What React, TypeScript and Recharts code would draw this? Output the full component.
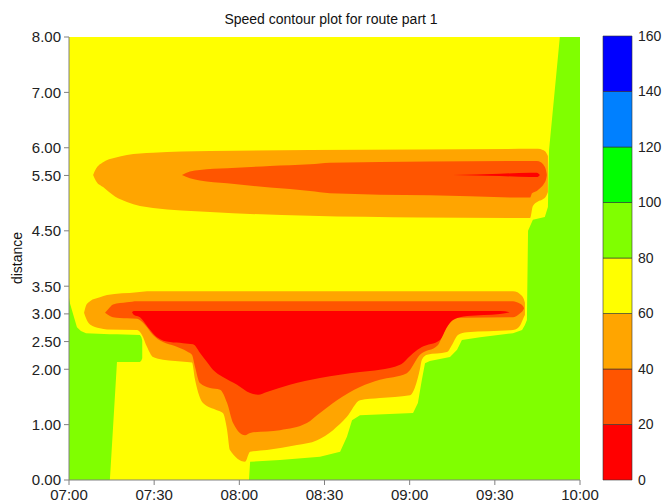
import { Area, Bar, BarChart, ComposedChart, XAxis, YAxis } from "recharts";

// x = minutes after 07:00, then [lower, upper] distance of the filled band
type Pt = [number, number, number];

const timeTicks = [0, 30, 60, 90, 120, 150, 180];
const distanceTicks = [0, 1, 2, 2.5, 3, 3.5, 4.5, 5.5, 6, 7, 8];
const speedLevels = [0, 20, 40, 60, 80, 100, 120, 140, 160];

// 60-80 covers the whole field, the other bands are drawn on top
const field6080: Pt[] = [
  [0, 0, 8],
  [180, 0, 8],
];

const green80Left: Pt[] = [
  [0, 0, 3.29], [0.4, 0, 3.18], [2.8, 0, 2.76], [4.2, 0, 2.69], [6.0, 0, 2.65],
  [14.4, 0, 2.63], [16.9, 2.13, 2.63], [25.0, 2.13, 2.62], [25.5, 2.16, 2.58],
  [25.8, 2.2, 2.52],
];

const green80Right: Pt[] = [
  [63.4, 0, 0], [63.8, 0, 0.33], [74.3, 0, 0.36], [88.4, 0, 0.42], [95.5, 0, 0.51],
  [97.9, 0, 0.78], [99.7, 0, 1.08], [102.5, 0, 1.17], [121.2, 0, 1.21],
  [122.9, 0, 1.39], [124.3, 0, 1.81], [125.4, 0, 2.11], [127.1, 0, 2.15],
  [134.2, 0, 2.22], [136.7, 0, 2.35], [138.4, 0, 2.53], [144.8, 0, 2.58],
  [156.4, 0, 2.65], [159.6, 0, 2.71], [160.6, 0, 2.8], [161.3, 0, 2.89],
  [161.7, 0, 4.5], [163.4, 0, 4.7], [167.6, 0, 4.75], [168.7, 0, 4.93],
  [169.1, 0, 5.96], [172.9, 0, 8], [180, 0, 8],
];

const orange40Upper: Pt[] = [
  [8.5, 5.51, 5.51], [9.5, 5.4, 5.62], [12.0, 5.29, 5.74], [16.2, 5.12, 5.82],
  [20.4, 5.02, 5.87], [29.6, 4.91, 5.91], [49.7, 4.84, 5.94], [84.9, 4.77, 5.96],
  [123.6, 4.74, 5.97], [162.4, 4.73, 5.98], [163.4, 4.95, 5.98], [165.2, 5.03, 5.98],
  [166.9, 5.07, 5.96], [168.0, 5.12, 5.92], [168.7, 5.2, 5.85],
];

const dark20Upper: Pt[] = [
  [39.8, 5.51, 5.51], [42.6, 5.45, 5.57], [46.1, 5.41, 5.6], [55.7, 5.36, 5.63],
  [70.8, 5.28, 5.67], [84.9, 5.22, 5.7], [91.9, 5.18, 5.73], [127.1, 5.14, 5.75],
  [162.4, 5.1, 5.76], [163.1, 5.18, 5.76], [164.8, 5.22, 5.76], [166.2, 5.28, 5.74],
  [167.3, 5.35, 5.68], [168.0, 5.42, 5.6], [168.3, 5.5, 5.52],
];

const red0Upper: Pt[] = [
  [135.2, 5.51, 5.51], [151.8, 5.49, 5.53], [162.4, 5.47, 5.55], [164.8, 5.47, 5.55],
  [165.9, 5.51, 5.51],
];

const orange40Lower: Pt[] = [
  [5.3, 3.02, 3.02], [6.0, 2.92, 3.15], [6.7, 2.85, 3.2], [7.4, 2.81, 3.23],
  [10.9, 2.74, 3.3], [13.4, 2.72, 3.34], [24.0, 2.71, 3.39], [25.7, 2.62, 3.4],
  [27.5, 2.4, 3.41], [29.6, 2.22, 3.41], [33.1, 2.17, 3.41], [41.6, 2.13, 3.41],
  [43.3, 2.12, 3.41], [44.4, 1.81, 3.41], [47.2, 1.39, 3.41], [52.1, 1.26, 3.41],
  [54.2, 1.21, 3.41], [55.7, 0.9, 3.41], [56.7, 0.54, 3.41], [62.0, 0.33, 3.41],
  [63.8, 0.51, 3.41], [69.7, 0.54, 3.41], [80.3, 0.63, 3.41], [87.4, 0.72, 3.41],
  [93.0, 0.9, 3.41], [97.9, 1.14, 3.41], [102.5, 1.44, 3.41], [109.5, 1.48, 3.41],
  [120.1, 1.53, 3.41], [121.9, 1.68, 3.41], [123.6, 2.0, 3.41], [124.3, 2.17, 3.41],
  [126.1, 2.26, 3.41], [133.1, 2.31, 3.41], [134.9, 2.44, 3.41], [137.0, 2.62, 3.41],
  [140.2, 2.67, 3.41], [156.4, 2.71, 3.41], [158.0, 2.74, 3.39], [159.0, 2.8, 3.35],
  [160.2, 2.94, 3.27], [160.6, 2.98, 3.2],
];

const dark20Lower: Pt[] = [
  [12.7, 3.02, 3.02], [14.4, 2.96, 3.12], [15.5, 2.94, 3.17], [20.4, 2.92, 3.21],
  [24.0, 2.91, 3.23], [26.8, 2.8, 3.23], [29.6, 2.62, 3.23], [33.1, 2.49, 3.23],
  [37.3, 2.42, 3.23], [41.6, 2.32, 3.23], [43.3, 2.26, 3.23], [44.4, 2.04, 3.23],
  [46.1, 1.75, 3.23], [49.7, 1.66, 3.23], [53.2, 1.63, 3.23], [55.7, 1.39, 3.23],
  [57.8, 1.03, 3.23], [62.0, 0.81, 3.23], [63.8, 0.85, 3.23], [74.3, 0.9, 3.23],
  [83.8, 1.03, 3.23], [88.4, 1.21, 3.23], [94.4, 1.44, 3.23], [102.5, 1.68, 3.23],
  [109.5, 1.81, 3.23], [119.0, 1.93, 3.23], [123.6, 2.26, 3.23], [130.0, 2.44, 3.23],
  [131.7, 2.62, 3.23], [134.2, 2.84, 3.23], [137.7, 2.93, 3.23], [156.4, 2.94, 3.23],
  [158.6, 3.0, 3.19], [159.9, 3.06, 3.14], [160.3, 3.1, 3.1],
];

const red0Lower: Pt[] = [
  [22.2, 3.03, 3.03], [22.9, 2.98, 3.05], [25.0, 2.94, 3.05], [27.8, 2.76, 3.05],
  [31.0, 2.58, 3.05], [35.6, 2.49, 3.05], [40.2, 2.47, 3.05], [43.7, 2.45, 3.05],
  [46.1, 2.3, 3.05], [48.6, 2.13, 3.05], [50.7, 1.99, 3.05], [54.2, 1.86, 3.05],
  [59.2, 1.72, 3.05], [63.8, 1.57, 3.05], [66.6, 1.54, 3.05], [69.7, 1.59, 3.05],
  [77.8, 1.72, 3.05], [88.4, 1.84, 3.05], [102.5, 1.95, 3.05], [109.5, 1.99, 3.05],
  [116.6, 2.08, 3.05], [121.2, 2.29, 3.05], [124.3, 2.4, 3.05], [130.7, 2.53, 3.05],
  [133.1, 2.76, 3.05], [135.2, 2.89, 3.05], [140.2, 2.96, 3.05], [151.8, 3.0, 3.05],
  [155.3, 3.03, 3.03],
];

// one colour per 20 km/h band, 0-20 first
const bandColors = [
  "#ff0000", "#ff5500", "#ffa500", "#ffff00",
  "#80ff00", "#00ff00", "#0080ff", "#0000ff",
];

const layers: { id: string; pts: Pt[]; band: number; curve: "linear" | "monotone" }[] = [
  { id: "field", pts: field6080, band: 3, curve: "linear" },
  { id: "greenL", pts: green80Left, band: 4, curve: "linear" },
  { id: "greenR", pts: green80Right, band: 4, curve: "linear" },
  { id: "orangeU", pts: orange40Upper, band: 2, curve: "monotone" },
  { id: "orangeL", pts: orange40Lower, band: 2, curve: "monotone" },
  { id: "darkU", pts: dark20Upper, band: 1, curve: "monotone" },
  { id: "darkL", pts: dark20Lower, band: 1, curve: "monotone" },
  { id: "redU", pts: red0Upper, band: 0, curve: "monotone" },
  { id: "redL", pts: red0Lower, band: 0, curve: "monotone" },
];

const toRows = (pts: Pt[]) => pts.map(([t, lo, hi]) => ({ t, band: [lo, hi] }));

const clock = (m: number) => {
  const h = 7 + Math.floor(m / 60);
  const mm = m % 60;
  return `${String(h).padStart(2, "0")}:${String(mm).padStart(2, "0")}`;
};

// single stacked column for the colour scale
const scaleRow: Record<string, number | string> = { name: "speed" };
speedLevels.slice(1).forEach((v, i) => {
  scaleRow[`s${i}`] = v - speedLevels[i];
});

const axisGrey = "#808080";
const tickText = { fill: "#222", fontSize: 15 };

export default function App() {
  return (
    <div
      style={{
        position: "absolute",
        left: 0,
        top: 0,
        width: 662,
        height: 504,
        background: "#fff",
        fontFamily: "'Liberation Sans', Arial, sans-serif",
      }}
    >
      <div
        style={{
          position: "absolute",
          top: 11,
          left: 0,
          width: 662,
          textAlign: "center",
          fontSize: 14,
          lineHeight: "16px",
          color: "#111",
        }}
      >
        Speed contour plot for route part 1
      </div>
      <div
        style={{
          position: "absolute",
          left: 17,
          top: 258,
          transform: "translate(-50%, -50%) rotate(-90deg)",
          fontSize: 14,
          lineHeight: "16px",
          whiteSpace: "nowrap",
          color: "#111",
        }}
      >
        distance
      </div>

      <ComposedChart
        width={662}
        height={504}
        margin={{ top: 37, right: 82, bottom: 0, left: 0 }}
        style={{ position: "absolute", left: 0, top: 0 }}
      >
        <XAxis
          dataKey="t"
          type="number"
          domain={[0, 180]}
          ticks={timeTicks}
          interval={0}
          tickFormatter={clock}
          height={24}
          tickSize={5}
          tickMargin={4}
          tick={tickText}
          stroke={axisGrey}
        />
        <XAxis
          xAxisId="top"
          orientation="top"
          dataKey="t"
          type="number"
          domain={[0, 180]}
          ticks={timeTicks}
          interval={0}
          height={0}
          tickSize={5}
          tick={false}
          stroke={axisGrey}
        />
        <YAxis
          type="number"
          domain={[0, 8]}
          ticks={distanceTicks}
          interval={0}
          tickFormatter={(v: number) => v.toFixed(2)}
          width={69}
          tickSize={5}
          tickMargin={3}
          tick={tickText}
          stroke={axisGrey}
        />
        <YAxis
          yAxisId="right"
          orientation="right"
          type="number"
          domain={[0, 8]}
          ticks={distanceTicks}
          interval={0}
          width={0}
          tickSize={5}
          tick={false}
          stroke={axisGrey}
        />
        {layers.map((l) => (
          <Area
            key={l.id}
            data={toRows(l.pts)}
            dataKey="band"
            type={l.curve}
            fill={bandColors[l.band]}
            fillOpacity={1}
            stroke="none"
            dot={false}
            activeDot={false}
            isAnimationActive={false}
          />
        ))}
      </ComposedChart>

      <BarChart
        width={62}
        height={504}
        data={[scaleRow]}
        margin={{ top: 36, right: 0, bottom: 24, left: 3 }}
        barCategoryGap={0}
        style={{ position: "absolute", left: 600, top: 0 }}
      >
        <XAxis dataKey="name" hide />
        <YAxis
          orientation="right"
          type="number"
          domain={[0, 160]}
          ticks={speedLevels}
          interval={0}
          width={30}
          axisLine={false}
          tickLine={false}
          tickSize={3}
          tickMargin={3}
          tick={{ fill: "#222", fontSize: 14, textAnchor: "start" }}
        />
        {bandColors.map((c, i) => (
          <Bar
            key={c}
            dataKey={`s${i}`}
            stackId="scale"
            fill={c}
            stroke="#333"
            strokeWidth={0.6}
            isAnimationActive={false}
          />
        ))}
      </BarChart>
    </div>
  );
}
